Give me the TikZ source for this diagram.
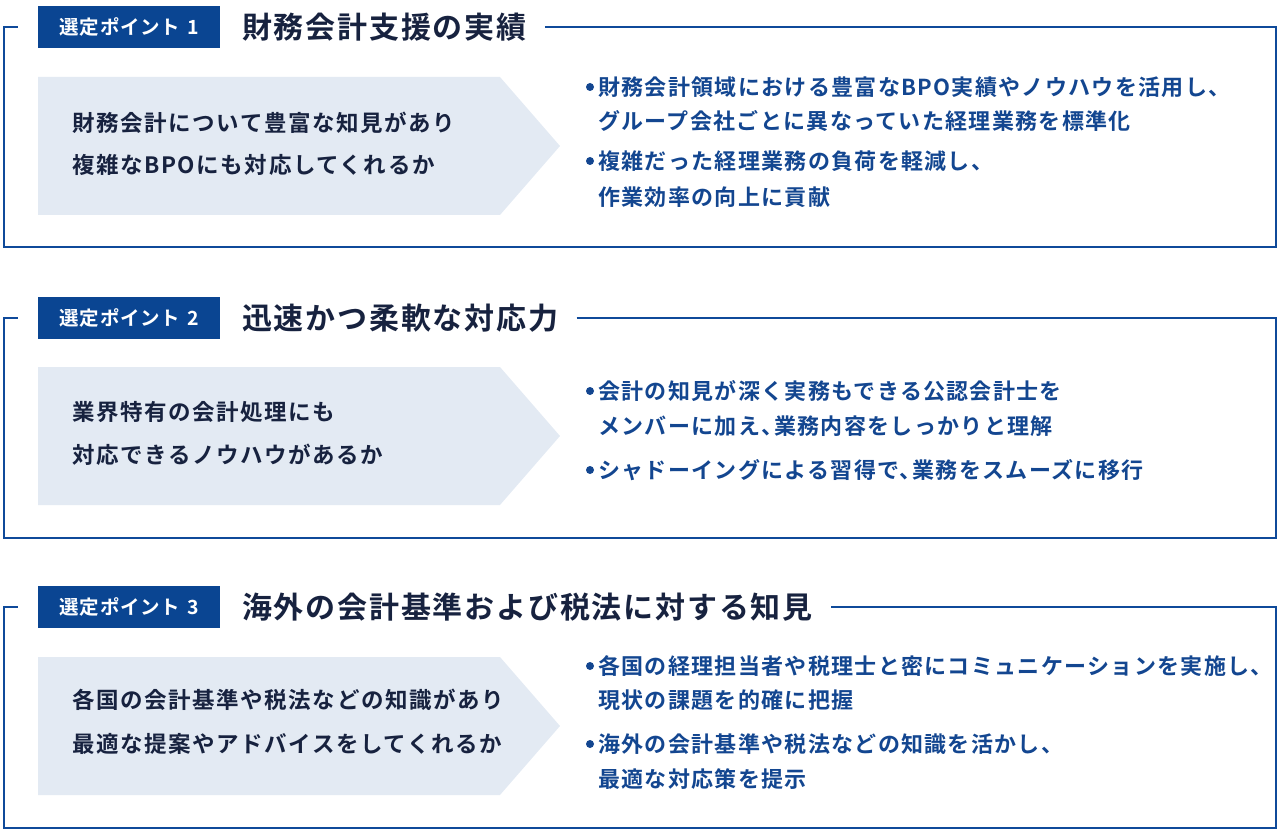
\documentclass[tikz,border=0pt]{standalone}
\usepackage{fontspec}
\setmainfont{Noto Sans CJK JP}
\newfontfamily\labelfont{Noto Sans CJK JP Bold}[LetterSpace=4]
\newfontfamily\titlefont{Noto Sans CJK JP Bold}[LetterSpace=6]
\newfontfamily\leftfont{Noto Sans CJK JP Bold}[LetterSpace=7]
\newfontfamily\rightfont{Noto Sans CJK JP Bold}[LetterSpace=6]
\definecolor{frameblue}{HTML}{0F4A9A}
\definecolor{labelblue}{HTML}{0A4592}
\definecolor{navy}{HTML}{17223F}
\definecolor{textblue}{HTML}{134690}
\definecolor{panelfill}{HTML}{E3EAF3}
\newcommand{\halfcomma}{、\kern-0.42em}
\tikzset{
  frameline/.style={draw=frameblue, line width=2pt},
  labelbox/.style={fill=labelblue, text=white, font=\labelfont\fontsize{19.5}{19.5}\selectfont, minimum width=182pt, minimum height=42pt, inner sep=0pt, anchor=west},
  titletext/.style={text=navy, font=\titlefont\fontsize{30}{30}\selectfont, anchor=west, inner sep=0pt},
  panel/.style={fill=panelfill},
  lefttext/.style={text=navy, font=\leftfont\fontsize{22.5}{22.5}\selectfont, anchor=west, inner sep=0pt},
  righttext/.style={text=textblue, font=\rightfont\fontsize{22}{22}\selectfont, anchor=west, inner sep=0pt},
  bulletdot/.style={circle, fill=textblue, minimum size=8pt, inner sep=0pt},
}
\begin{document}
\begin{tikzpicture}[x=1pt,y=-1pt]
\useasboundingbox (0,0) rectangle (1280,834);

% ---------- Section 1 ----------
\begin{scope}[shift={(0,27)}]
\node[labelbox] (p1) at (38,0) {選定ポイント\hspace{0.35em}1};
\node[titletext] (t1) at (242,0) {財務会計支援の実績};
\draw[frameline] ([xshift=18pt]t1.east) -- (1276,0) -- (1276,220) -- (4,220) -- (4,0) -- (18,0);
\fill[panel] (38,50) -- (500,50) -- (560,119) -- (500,188) -- (38,188) -- cycle;
\node[lefttext] (l1a) at (72,96) {財務会計について豊富な知見があり};
\node[lefttext] (l1b) at (72,138) {複雑なBPOにも対応してくれるか};
\node[bulletdot] (b1a) at (590,60) {};
\node[righttext] (r1a) at (598,60) {財務会計領域における豊富なBPO実績やノウハウを活用し、};
\node[righttext] (r1b) at (598,94) {グループ会社ごとに異なっていた経理業務を標準化};
\node[bulletdot] (b1b) at (590,134) {};
\node[righttext] (r1c) at (598,134) {複雑だった経理業務の負荷を軽減し、};
\node[righttext] (r1d) at (598,170) {作業効率の向上に貢献};
\end{scope}

% ---------- Section 2 ----------
\begin{scope}[shift={(0,318)}]
\node[labelbox] (p2) at (38,0) {選定ポイント\hspace{0.35em}2};
\node[titletext] (t2) at (242,0) {迅速かつ柔軟な対応力};
\draw[frameline] ([xshift=18pt]t2.east) -- (1276,0) -- (1276,220) -- (4,220) -- (4,0) -- (18,0);
\fill[panel] (38,49) -- (500,49) -- (560,118) -- (500,187) -- (38,187) -- cycle;
\node[lefttext] (l2a) at (72,94) {業界特有の会計処理にも};
\node[lefttext] (l2b) at (72,137) {対応できるノウハウがあるか};
\node[bulletdot] (b2a) at (590,73) {};
\node[righttext] (r2a) at (598,73) {会計の知見が深く実務もできる公認会計士を};
\node[righttext] (r2b) at (598,108) {メンバーに加え\halfcomma 業務内容をしっかりと理解};
\node[bulletdot] (b2b) at (590,152) {};
\node[righttext] (r2c) at (598,152) {シャドーイングによる習得で\halfcomma 業務をスムーズに移行};
\end{scope}

% ---------- Section 3 ----------
\begin{scope}[shift={(0,607)}]
\node[labelbox] (p3) at (38,0) {選定ポイント\hspace{0.35em}3};
\node[titletext] (t3) at (242,0) {海外の会計基準および税法に対する知見};
\draw[frameline] ([xshift=18pt]t3.east) -- (1276,0) -- (1276,221) -- (4,221) -- (4,0) -- (18,0);
\fill[panel] (38,50) -- (500,50) -- (560,119) -- (500,188) -- (38,188) -- cycle;
\node[lefttext] (l3a) at (72,93) {各国の会計基準や税法などの知識があり};
\node[lefttext] (l3b) at (72,137) {最適な提案やアドバイスをしてくれるか};
\node[bulletdot] (b3a) at (590,59) {};
\node[righttext] (r3a) at (598,59) {各国の経理担当者や税理士と密にコミュニケーションを実施し、};
\node[righttext] (r3b) at (598,93) {現状の課題を的確に把握};
\node[bulletdot] (b3b) at (590,137) {};
\node[righttext] (r3c) at (598,137) {海外の会計基準や税法などの知識を活かし、};
\node[righttext] (r3d) at (598,172) {最適な対応策を提示};
\end{scope}
\end{tikzpicture}
\end{document}
